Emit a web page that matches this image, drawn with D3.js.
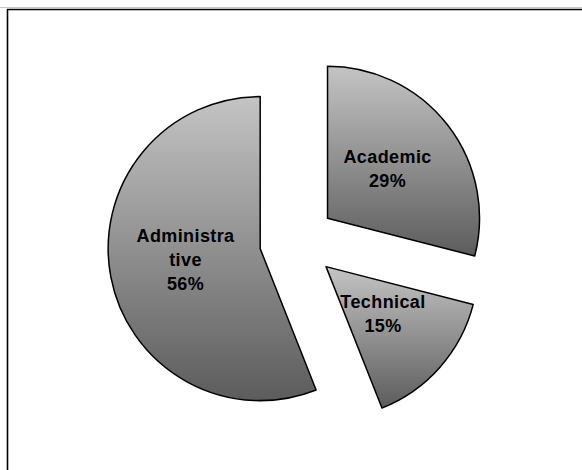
<!DOCTYPE html>
<html>
<head>
<meta charset="utf-8">
<script src="https://cdn.jsdelivr.net/npm/d3@7"></script>
<style>
  html, body { margin: 0; padding: 0; background: #fff; }
  svg { display: block; }
</style>
</head>
<body>
<svg id="chart" width="582" height="470"></svg>
<script>
// Data
const categories = ["Academic", "Technical", "Administrative"];
const values = [29, 15, 56];
const labelLines = [["Academic"], ["Technical"], ["Administra", "tive"]];

const W = 582, H = 470;
const svg = d3.select("#chart");

// frame (cropped chart area border)
svg.append("line").attr("x1", 0).attr("x2", W).attr("y1", 7.5).attr("y2", 7.5)
  .attr("stroke", "#c8c8c8").attr("stroke-width", 1);
svg.append("path").attr("d", `M7.5,${H} V9.5 H${W}`)
  .attr("fill", "none").attr("stroke", "#000").attr("stroke-width", 1.6);

const cx = 297.5, cy = 241.5, R = 152, explode = 38;

const defs = svg.append("defs");
const grad = defs.append("linearGradient").attr("id", "g")
  .attr("x1", 0).attr("y1", 0).attr("x2", 0).attr("y2", 1);
grad.append("stop").attr("offset", "0%").attr("stop-color", "#c4c4c4");
grad.append("stop").attr("offset", "100%").attr("stop-color", "#5c5c5c");

const pie = d3.pie().sort(null).value(d => d)(values);
const arc = d3.arc().innerRadius(0).outerRadius(R);

const g = svg.append("g").attr("transform", `translate(${cx},${cy})`);

const slices = g.selectAll("g.slice").data(pie).enter().append("g")
  .attr("class", "slice")
  .attr("transform", d => {
    const a = (d.startAngle + d.endAngle) / 2;
    return `translate(${explode * Math.sin(a)},${-explode * Math.cos(a)})`;
  });

slices.append("path")
  .attr("d", arc)
  .attr("fill", "url(#g)")
  .attr("stroke", "#000")
  .attr("stroke-width", 1.5)
  .attr("stroke-linejoin", "round");

const lineH = 24;
slices.each(function(d, i) {
  const [lx, ly] = arc.centroid(d);
  const lines = labelLines[i].concat([values[i] + "%"]);
  const n = lines.length;
  const t = d3.select(this).append("text")
    .attr("text-anchor", "middle")
    .attr("font-family", "'Liberation Sans', Arial, sans-serif")
    .attr("font-weight", "bold")
    .attr("font-size", 18)
    .attr("letter-spacing", 0.4)
    .attr("fill", "#000");
  lines.forEach((s, k) => {
    t.append("tspan")
      .attr("x", lx)
      .attr("y", ly - (n - 1) * lineH / 2 + k * lineH + 3.5)
      .text(s);
  });
});
</script>
</body>
</html>
